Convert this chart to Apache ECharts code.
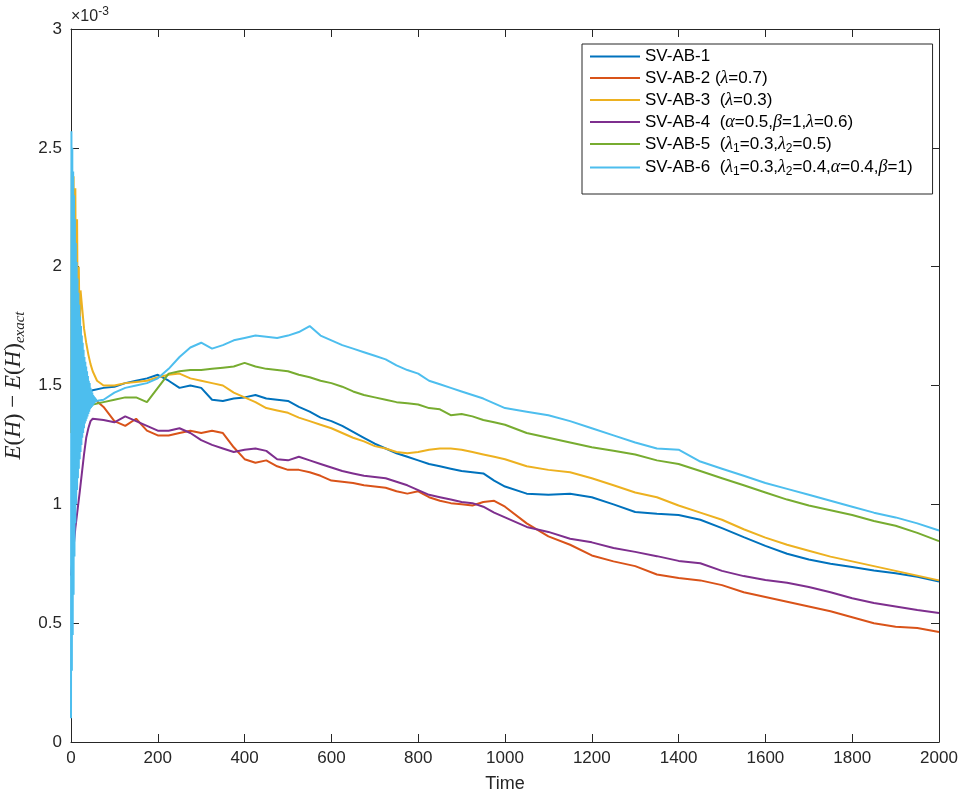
<!DOCTYPE html>
<html>
<head>
<meta charset="utf-8">
<script src="https://cdn.jsdelivr.net/npm/echarts@6/dist/echarts.min.js"></script>
<style>
    html, body { margin: 0; padding: 0; background: #fff; }
    #chart { width: 959px; height: 797px; }
</style>
</head>
<body>
<div id="chart"></div>
<script>
    // values are in units of 1e-3
    let timeGrid = [75, 100, 125, 150, 175, 200, 225, 250, 275, 300, 325, 350, 375, 400, 425, 450, 475, 500,
        525, 550, 575, 600, 625, 650, 675, 700, 725, 750, 775, 800, 825, 850, 875, 900, 925, 950, 975, 1000,
        1050, 1100, 1150, 1200, 1250, 1300, 1350, 1400, 1450, 1500, 1550, 1600, 1650, 1700, 1750, 1800,
        1850, 1900, 1950, 2000];

    let sv1EarlyT = [0, 25, 50];
    let sv1EarlyV = [1.45, 1.46, 1.48];
    let sv1 = [1.49, 1.495, 1.51, 1.52, 1.53, 1.545, 1.52, 1.49, 1.50, 1.49, 1.44, 1.435, 1.445, 1.45, 1.46, 1.445, 1.44, 1.435,
        1.41, 1.39, 1.365, 1.35, 1.33, 1.305, 1.28, 1.255, 1.235, 1.215, 1.20, 1.185, 1.17, 1.16, 1.15, 1.14, 1.135, 1.13, 1.10, 1.075,
        1.045, 1.04, 1.045, 1.03, 1.00, 0.968, 0.96, 0.955, 0.935, 0.90, 0.862, 0.825, 0.792, 0.768, 0.75, 0.736,
        0.722, 0.71, 0.695, 0.675];

    let sv2EarlyT = [0, 25, 50];
    let sv2EarlyV = [1.45, 1.45, 1.45];
    let sv2 = [1.41, 1.35, 1.33, 1.36, 1.31, 1.29, 1.29, 1.30, 1.31, 1.30, 1.31, 1.30, 1.24, 1.19, 1.175, 1.185, 1.16, 1.145,
        1.145, 1.135, 1.12, 1.10, 1.095, 1.09, 1.08, 1.075, 1.07, 1.055, 1.045, 1.055, 1.03, 1.015, 1.005, 1.00, 0.995, 1.01, 1.015, 0.99,
        0.92, 0.865, 0.83, 0.785, 0.76, 0.74, 0.705, 0.69, 0.68, 0.66, 0.63, 0.61, 0.59, 0.57, 0.55, 0.525,
        0.50, 0.485, 0.48, 0.463];

    let sv3EarlyT = [0, 2, 4, 6, 8, 10, 12, 14, 16, 18, 20, 22, 25, 30, 35, 40, 45, 50, 60];
    let sv3EarlyV = [1.3, 2.4, 1.3, 2.38, 1.4, 2.33, 1.5, 2.2, 1.6, 2.0, 1.7, 1.9, 1.84, 1.74, 1.68, 1.63, 1.59, 1.56, 1.52];
    let sv3 = [1.50, 1.50, 1.51, 1.515, 1.52, 1.535, 1.545, 1.55, 1.53, 1.52, 1.51, 1.50, 1.47, 1.45, 1.43, 1.405, 1.395, 1.385,
        1.365, 1.35, 1.335, 1.32, 1.30, 1.28, 1.265, 1.245, 1.235, 1.22, 1.215, 1.22, 1.23, 1.235, 1.235, 1.23, 1.22, 1.21, 1.20, 1.19,
        1.16, 1.145, 1.135, 1.11, 1.08, 1.05, 1.03, 0.995, 0.965, 0.935, 0.895, 0.86, 0.83, 0.805, 0.78, 0.76,
        0.74, 0.72, 0.70, 0.68];

    let sv4EarlyT = [0, 10, 20, 25, 30, 35, 40, 45, 50];
    let sv4EarlyV = [0.7, 0.9, 1.05, 1.13, 1.21, 1.28, 1.32, 1.35, 1.36];
    let sv4 = [1.355, 1.345, 1.37, 1.35, 1.33, 1.31, 1.31, 1.32, 1.30, 1.27, 1.25, 1.235, 1.22, 1.23, 1.235, 1.225, 1.19, 1.185,
        1.20, 1.185, 1.17, 1.155, 1.14, 1.13, 1.12, 1.115, 1.11, 1.095, 1.08, 1.06, 1.04, 1.03, 1.02, 1.01, 1.005, 0.99, 0.965, 0.945,
        0.905, 0.884, 0.855, 0.84, 0.816, 0.80, 0.782, 0.762, 0.752, 0.72, 0.698, 0.682, 0.67, 0.652, 0.63, 0.605,
        0.585, 0.57, 0.555, 0.543];

    let sv5EarlyT = [0, 25, 50];
    let sv5EarlyV = [1.40, 1.41, 1.42];
    let sv5 = [1.43, 1.44, 1.45, 1.45, 1.43, 1.49, 1.55, 1.56, 1.565, 1.565, 1.57, 1.575, 1.58, 1.595, 1.58, 1.57, 1.565, 1.56,
        1.545, 1.535, 1.52, 1.51, 1.495, 1.475, 1.46, 1.45, 1.44, 1.43, 1.425, 1.42, 1.405, 1.40, 1.375, 1.38, 1.37, 1.355, 1.345, 1.335,
        1.30, 1.28, 1.26, 1.24, 1.225, 1.21, 1.185, 1.17, 1.14, 1.11, 1.08, 1.05, 1.02, 0.995, 0.975, 0.955,
        0.93, 0.91, 0.88, 0.845];

    // strong oscillation at the start
    let sv6EarlyT = [0, 1, 2, 3, 4, 5, 6, 7, 8, 9, 10, 11, 12, 13, 14, 15, 16, 17, 18, 19, 20, 21, 22, 23, 24, 25, 26, 27, 28, 29,
        30, 31, 32, 33, 34, 35, 36, 37, 38, 39, 40, 41, 42, 43, 44, 45, 46, 47, 48, 49, 50, 51, 52, 53, 54, 55, 56, 57, 58, 59, 60];
    let sv6EarlyV = [0.10, 2.57, 0.30, 2.50, 0.45, 2.40, 0.62, 2.30, 0.78, 2.20, 0.92, 2.10, 1.00, 2.02, 1.06, 1.95, 1.11, 1.89,
        1.15, 1.84, 1.19, 1.79, 1.22, 1.75, 1.25, 1.71, 1.28, 1.68, 1.30, 1.65, 1.32, 1.62, 1.34, 1.60, 1.35, 1.58, 1.36, 1.56,
        1.37, 1.54, 1.38, 1.52, 1.39, 1.51, 1.40, 1.49, 1.405, 1.48, 1.41, 1.47, 1.415, 1.46, 1.42, 1.455, 1.425, 1.45, 1.43, 1.445,
        1.435, 1.44, 1.44];
    let sv6 = [1.44, 1.47, 1.49, 1.50, 1.51, 1.53, 1.57, 1.62, 1.66, 1.68, 1.655, 1.67, 1.69, 1.70, 1.71, 1.705, 1.70, 1.71,
        1.725, 1.75, 1.71, 1.69, 1.67, 1.655, 1.64, 1.625, 1.61, 1.585, 1.565, 1.55, 1.52, 1.505, 1.49, 1.475, 1.46, 1.445, 1.425, 1.405,
        1.39, 1.375, 1.35, 1.32, 1.29, 1.26, 1.235, 1.23, 1.18, 1.15, 1.12, 1.09, 1.065, 1.04, 1.015, 0.99,
        0.965, 0.945, 0.92, 0.89];

    let seriesNames = ['SV-AB-1', 'SV-AB-2', 'SV-AB-3', 'SV-AB-4', 'SV-AB-5', 'SV-AB-6'];
    let legendLabels = [
        'SV-AB-1',
        'SV-AB-2 ({g|λ}=0.7)',
        'SV-AB-3  ({g|λ}=0.3)',
        'SV-AB-4  ({g|α}=0.5,{g|β}=1,{g|λ}=0.6)',
        'SV-AB-5  ({g|λ}{s|1}=0.3,{g|λ}{s|2}=0.5)',
        'SV-AB-6  ({g|λ}{s|1}=0.3,{g|λ}{s|2}=0.4,{g|α}=0.4,{g|β}=1)'
    ];
    let colors = ['#0072BD', '#D95319', '#EDB120', '#7E2F8E', '#77AC30', '#4DBEEE'];

    let xTicks = [0, 200, 400, 600, 800, 1000, 1200, 1400, 1600, 1800, 2000];
    let yTicks = [0, 0.5, 1, 1.5, 2, 2.5, 3];

    function pairs(earlyT, earlyV, values) {
        let out = earlyT.map((t, i) => [t, earlyV[i]]);
        timeGrid.forEach((t, i) => out.push([t, values[i]]));
        return out;
    }

    let allData = [
        pairs(sv1EarlyT, sv1EarlyV, sv1),
        pairs(sv2EarlyT, sv2EarlyV, sv2),
        pairs(sv3EarlyT, sv3EarlyV, sv3),
        pairs(sv4EarlyT, sv4EarlyV, sv4),
        pairs(sv5EarlyT, sv5EarlyV, sv5),
        pairs(sv6EarlyT, sv6EarlyV, sv6)
    ];

    let myChart = echarts.init(document.getElementById('chart'));
    let axisColor = '#262626';
    let labelFont = 'Liberation Sans';

    let tickStyle = {show: true, inside: true, length: 8, lineStyle: {color: axisColor, width: 1}};

    let option = {
        animation: false,
        backgroundColor: '#fff',
        color: colors,
        grid: {left: 71, right: 20, top: 29, bottom: 55, containLabel: false, outerBoundsMode: 'none'},
        graphic: [{
            type: 'text',
            left: 71,
            top: 6,
            style: {
                text: '×10{s|-3}',
                font: '16px Liberation Sans',
                fill: axisColor,
                rich: {s: {fontSize: 12, fontFamily: labelFont, padding: [0, 0, 10, 0], fill: axisColor}}
            }
        }],
        legend: {
            orient: 'vertical',
            left: 582,
            top: 44,
            data: seriesNames,
            icon: 'rect',
            itemWidth: 50,
            itemHeight: 2,
            itemGap: 4,
            padding: [4, 20, 16, 8],
            backgroundColor: '#fff',
            borderColor: axisColor,
            borderWidth: 1,
            borderRadius: 0,
            formatter: function (name) {
                return legendLabels[seriesNames.indexOf(name)];
            },
            textStyle: {
                fontFamily: labelFont,
                fontSize: 17,
                color: '#000',
                rich: {
                    g: {fontFamily: 'Liberation Serif', fontStyle: 'italic', fontSize: 18, color: '#000'},
                    s: {fontFamily: labelFont, fontSize: 12, color: '#000', padding: [9, 0, 0, 0]}
                }
            }
        },
        xAxis: [{
            type: 'value',
            min: 0,
            max: 2000,
            interval: 200,
            name: 'Time',
            nameLocation: 'middle',
            nameGap: 33,
            nameTextStyle: {fontFamily: labelFont, fontSize: 18, color: axisColor},
            axisLine: {show: true, lineStyle: {color: axisColor, width: 1}},
            axisTick: tickStyle,
            axisLabel: {
                fontFamily: labelFont, fontSize: 17, color: axisColor, margin: 8,
                formatter: (v) => xTicks.indexOf(v) >= 0 ? String(v) : ''
            },
            splitLine: {show: false}
        }, {
            type: 'value',
            position: 'top',
            min: 0,
            max: 2000,
            interval: 200,
            axisLine: {show: true, onZero: false, lineStyle: {color: axisColor, width: 1}},
            axisTick: tickStyle,
            axisLabel: {show: false},
            splitLine: {show: false}
        }],
        yAxis: [{
            type: 'value',
            min: 0,
            max: 3,
            interval: 0.5,
            name: '{i|E}({i|H}) − {i|E}({i|H}){sub|exact}',
            nameLocation: 'middle',
            nameRotate: 90,
            nameGap: 22,
            nameTextStyle: {
                fontFamily: 'Liberation Serif',
                fontSize: 23,
                color: axisColor,
                rich: {
                    i: {fontFamily: 'Liberation Serif', fontStyle: 'italic', fontSize: 23, color: axisColor},
                    sub: {fontFamily: 'Liberation Serif', fontStyle: 'italic', fontSize: 15, color: axisColor, padding: [12, 0, 0, 0]}
                }
            },
            axisLine: {show: true, lineStyle: {color: axisColor, width: 1}},
            axisTick: tickStyle,
            axisLabel: {
                fontFamily: labelFont, fontSize: 17, color: axisColor, margin: 9,
                formatter: (v) => yTicks.indexOf(v) >= 0 ? String(v) : ''
            },
            splitLine: {show: false}
        }, {
            type: 'value',
            position: 'right',
            min: 0,
            max: 3,
            interval: 0.5,
            axisLine: {show: true, onZero: false, lineStyle: {color: axisColor, width: 1}},
            axisTick: tickStyle,
            axisLabel: {show: false},
            splitLine: {show: false}
        }],
        series: allData.map((d, i) => ({
            name: seriesNames[i],
            type: 'line',
            xAxisIndex: 0,
            yAxisIndex: 0,
            data: d,
            symbol: 'none',
            smooth: false,
            lineStyle: {width: 2, color: colors[i]},
            itemStyle: {color: colors[i]},
            emphasis: {disabled: true}
        }))
    };

    myChart.setOption(option);
</script>
</body>
</html>
